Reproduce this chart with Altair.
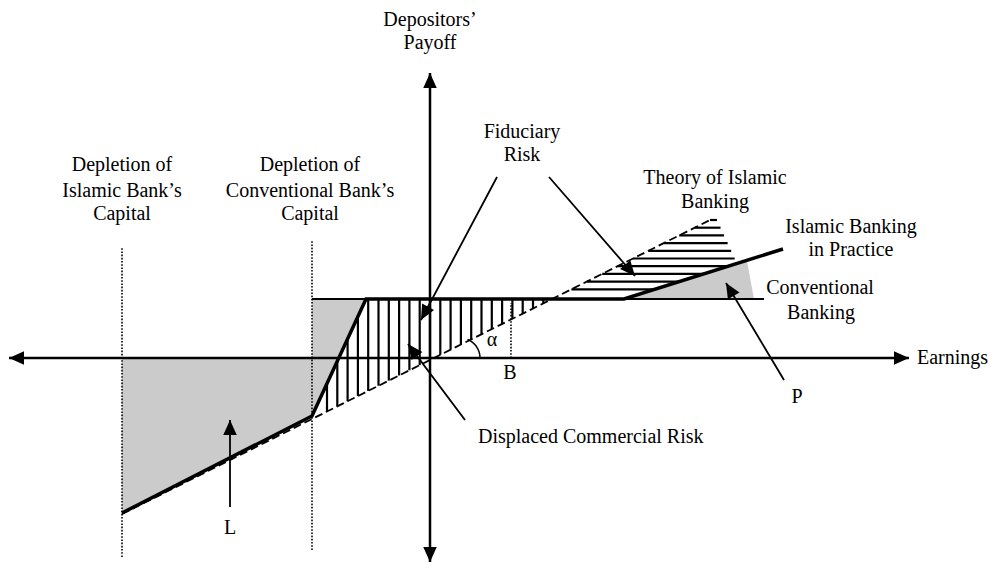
import altair as alt
import numpy as np
import pandas as pd

# ---------------- diagram data (origin = where the two axes cross) ----------------
# Islamic banking in practice (thick solid payoff line)
practice_x = [-30.8, -11.8, -6.4, 19.4, 35.3]
practice_y = [-15.5, -5.8, 5.9, 5.9, 10.9]
# Theory of Islamic banking (dashed payoff line)
theory_x = [-30.8, 28.0]
theory_y = [-15.6, 13.8]
# Conventional banking (flat payoff line)
conv_x = [-11.8, 33.4]
conv_y = [5.9, 5.9]
# capital depletion boundaries (dotted verticals)
depl_x = [-30.8, -11.8]
depl_top = [11.1, 11.8]
depl_bottom = [-19.9, -19.2]
# point B (dotted vertical)
b_x = [8.1]
b_top = [5.5]
# axes
xaxis_x = [-42.1, 47.9]
yaxis_y = [-20.4, 28.5]
# stippled areas (capital depletion, left)
stipL_x = [-30.8, -11.81, -11.79, -6.4]
stipL_lo = [-15.5, -5.8, -5.8, 5.9]
stipL_hi = [0.0, 0.0, 5.9, 5.9]
# stippled area P (right)
stipP_x = [19.4, 31.7, 32.4]
stipP_lo = [5.9, 5.9, 5.9]
stipP_hi = [5.9, 9.7, 5.9]
# right edge of the horizontally hatched (theory) region
theory_edge_x = [30.7, 28.7]
theory_edge_y = [9.45, 13.8]
# annotation arrows: start -> tip
arrow_x0 = [6.7, 11.9, 3.5, -20.0, 35.4]
arrow_y0 = [18.1, 18.1, -6.2, -14.9, -2.2]
arrow_x1 = [-0.9, 20.5, -2.2, -20.0, 29.6]
arrow_y1 = [3.8, 8.2, 1.4, -6.2, 7.5]
# labels
label_text = ["Depositors\u2019", "Payoff", "Fiduciary", "Risk",
              "Theory of Islamic", "Banking", "Islamic Banking", "in Practice",
              "Conventional", "Banking",
              "Depletion of", "Islamic Bank\u2019s", "Capital",
              "Depletion of", "Conventional Bank\u2019s", "Capital",
              "Earnings", "B", "\u03b1", "L", "P", "Displaced Commercial Risk"]
label_x = [0.0, 0.0, 9.2, 9.2, 28.5, 28.5, 42.1, 42.1, 39.0, 39.1,
           -30.8, -30.8, -30.8, -12.0, -12.0, -12.0,
           48.7, 8.0, 6.2, -20.0, 36.7, 4.8]
label_y = [33.8, 31.5, 22.6, 20.3, 18.0, 15.6, 13.1, 10.8, 7.0, 4.5,
           19.3, 16.7, 14.4, 19.3, 16.7, 14.4,
           0.0, -1.5, 1.8, -17.0, -3.9, -7.9]
label_align = ["center"] * 16 + ["left", "center", "center", "center", "center", "left"]

# ---------------- derived drawing tables ----------------
FONT = "Liberation Serif"
STIPPLE = "#cbcbcb"
XS = alt.Scale(domain=[-42.2, 55.8], nice=False, zero=False)
YS = alt.Scale(domain=[-20.5, 35.0], nice=False, zero=False)


def X(f="x"):
    return alt.X(f"{f}:Q", scale=XS, axis=None)


def Y(f="y"):
    return alt.Y(f"{f}:Q", scale=YS, axis=None)


theory_slope = (theory_y[1] - theory_y[0]) / (theory_x[1] - theory_x[0])


def theory_at(x):
    return theory_y[0] + theory_slope * (x - theory_x[0])


def theory_x_at(y):
    return theory_x[0] + (y - theory_y[0]) / theory_slope


# vertical hatching between practice line and theory line
vx_end = theory_x_at(practice_y[2])
vx = np.arange(-10.3, vx_end, 1.03)
vhatch = pd.DataFrame({
    "x": vx,
    "y": theory_at(vx),
    "y2": np.interp(vx, practice_x[1:4], practice_y[1:4]),
})

# horizontal hatching between theory line and practice line (upper right)
hy = np.array([13.8 - 0.77 * k for k in range(10)])
left = theory_x_at(hy)
prac_right = np.interp(hy, practice_y[3:5], practice_x[3:5])
edge_right = np.interp(hy, theory_edge_y, theory_edge_x)
hhatch = pd.DataFrame({"y": hy, "x": left, "x2": np.minimum(prac_right, edge_right)})

stipL = pd.DataFrame({"x": stipL_x, "lo": stipL_lo, "hi": stipL_hi})
stipP = pd.DataFrame({"x": stipP_x, "lo": stipP_lo, "hi": stipP_hi})

practice = pd.DataFrame({"x": practice_x, "y": practice_y, "o": range(len(practice_x))})
theory = pd.DataFrame({"x": theory_x, "y": theory_y, "o": [0, 1]})
conv = pd.DataFrame({"x": [conv_x[0]], "x2": [conv_x[1]], "y": [conv_y[0]]})

axes = pd.DataFrame({"x": [xaxis_x[0], 0.0], "x2": [xaxis_x[1], 0.0],
                     "y": [0.0, yaxis_y[0]], "y2": [0.0, yaxis_y[1]]})
dotted = pd.DataFrame({"x": depl_x + b_x, "y": depl_bottom + [0.0], "y2": depl_top + b_top})

ann = pd.DataFrame({"x": arrow_x0, "y": arrow_y0, "x2": arrow_x1, "y2": arrow_y1})

# arrow heads: axis ends + annotation tips
head_x = [xaxis_x[0], xaxis_x[1], 0.0, 0.0] + arrow_x1
head_y = [0.0, 0.0, yaxis_y[0], yaxis_y[1]] + arrow_y1
head_ang = [270.0, 90.0, 180.0, 0.0] + [
    float(np.degrees(np.arctan2(x1 - x0, y1 - y0)) % 360)
    for x0, y0, x1, y1 in zip(arrow_x0, arrow_y0, arrow_x1, arrow_y1)]
heads = pd.DataFrame({"x": head_x, "y": head_y, "ang": head_ang})

# alpha arc
th = np.radians(np.linspace(0, 68, 20))
arc = pd.DataFrame({"x": 3.0 + 2.0 * np.cos(th), "y": 2.0 * np.sin(th), "o": range(20)})

labels = pd.DataFrame({"t": label_text, "x": label_x, "y": label_y, "a": label_align})

# ---------------- layers ----------------
layers = []
for df in (stipL, stipP):
    layers.append(alt.Chart(df).mark_area(color=STIPPLE, fill=STIPPLE, opacity=1,
                                          interpolate="linear", orient="vertical").encode(
        x=X(), y=Y("lo"), y2=alt.Y2("hi:Q")))
layers.append(alt.Chart(vhatch).mark_rule(color="black", strokeWidth=2.2).encode(
    x=X(), y=Y(), y2="y2:Q"))
layers.append(alt.Chart(hhatch).mark_rule(color="black", strokeWidth=2.2).encode(
    x=X(), x2="x2:Q", y=Y()))
layers.append(alt.Chart(dotted).mark_rule(color="black", strokeWidth=1.6, strokeDash=[1.6, 1.6]).encode(
    x=X(), y=Y(), y2="y2:Q"))
layers.append(alt.Chart(conv).mark_rule(color="black", strokeWidth=1.8).encode(
    x=X(), x2="x2:Q", y=Y()))
layers.append(alt.Chart(theory).mark_line(color="black", strokeWidth=1.8, strokeDash=[8, 4]).encode(
    x=X(), y=Y(), order="o:Q"))
layers.append(alt.Chart(practice).mark_line(color="black", strokeWidth=3.5).encode(
    x=X(), y=Y(), order="o:Q"))
layers.append(alt.Chart(axes).mark_rule(color="black", strokeWidth=2.5).encode(
    x=X(), x2="x2:Q", y=Y(), y2="y2:Q"))
layers.append(alt.Chart(ann).mark_rule(color="black", strokeWidth=1.8).encode(
    x=X(), x2="x2:Q", y=Y(), y2="y2:Q"))
layers.append(alt.Chart(arc).mark_line(color="black", strokeWidth=1.5).encode(
    x=X(), y=Y(), order="o:Q"))
layers.append(alt.Chart(heads).mark_point(
    shape="M0,0L-0.45,1L0.45,1Z", size=900, filled=True, color="black",
    opacity=1, strokeWidth=0).encode(
    x=X(), y=Y(), angle=alt.Angle("ang:Q", scale=None)))
for al in ["center", "left"]:
    layers.append(alt.Chart(labels[labels["a"] == al]).mark_text(
        font=FONT, fontSize=20, color="black", align=al, baseline="middle").encode(
        x=X(), y=Y(), text="t:N"))

chart = alt.layer(*layers).properties(
    width=980, height=555, padding=0, autosize="none"
).configure_view(stroke=None)

chart.save("out.html", embed_options={"renderer": "svg", "actions": False})
